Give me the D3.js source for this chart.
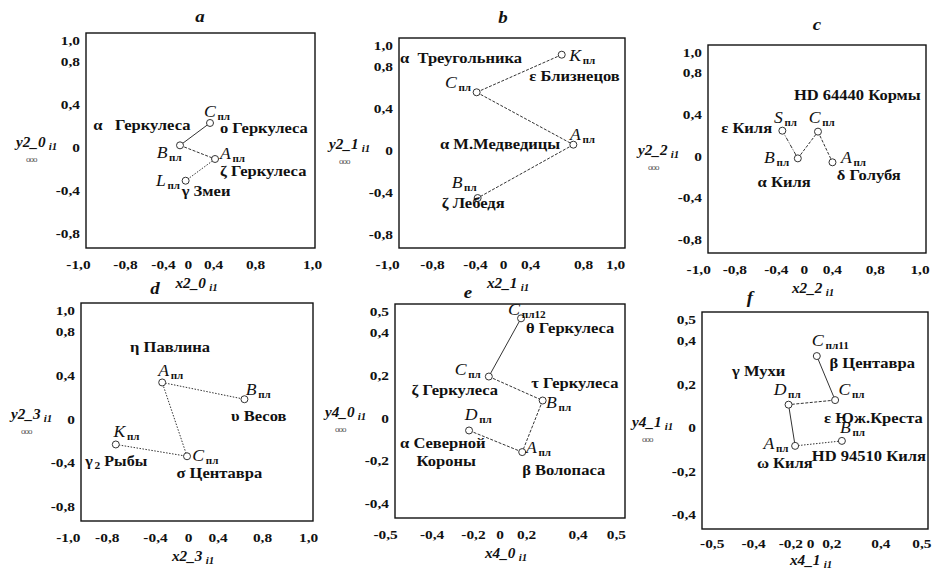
<!DOCTYPE html>
<html lang="ru">
<head>
<meta charset="utf-8">
<title>Панели a–f</title>
<script src="https://d3js.org/d3.v7.min.js"></script>
<style>
  body { margin: 0; background: #fff; }
  svg text { font-family: 'Liberation Serif', 'Times New Roman', serif; fill: #111; }
</style>
</head>
<body>
<script>
// tick values
const ticksWide = [-1, -0.8, -0.4, 0, 0.4, 0.8, 1]
const ticksNarrow = [-0.5, -0.4, -0.2, 0, 0.2, 0.4, 0.5]

const panelNames = ['a', 'b', 'c', 'd', 'e', 'f']
const xTitles = ['x2_0', 'x2_1', 'x2_2', 'x2_3', 'x4_0', 'x4_1']
const yTitles = ['y2_0', 'y2_1', 'y2_2', 'y2_3', 'y4_0', 'y4_1']

// "~" starts a subscript
// panel a (points in path order)
const aPoints = ['C', 'B', 'A', 'L']
const aX = [0.083, -0.179, 0.127, -0.130]
const aY = [0.163, -0.045, -0.172, -0.374]
const aLabels = ['α   Геркулеса', 'C~пл', 'ο Геркулеса', 'B~пл', 'A~пл', 'ζ Геркулеса', 'L~пл', 'γ Змеи']
const aLabelX = [-0.936, 0.031, 0.170, -0.383, 0.170, 0.170, -0.389, -0.164]
const aLabelY = [0.101, 0.215, 0.070, -0.163, -0.172, -0.327, -0.426, -0.519]

// panel b
const bPoints = ['K', 'C', 'A', 'B']
const bX = [0.440, -0.313, 0.543, -0.304]
const bY = [0.841, 0.483, -0.016, -0.524]
const bLabels = ['α  Треугольника', 'K~пл', 'ε Близнецов', 'C~пл', 'α М.Медведицы', 'A~пл', 'B~пл', 'ζ Лебедя']
const bLabelX = [-0.991, 0.507, 0.153, -0.593, -0.637, 0.513, -0.534, -0.622]
const bLabelY = [0.762, 0.778, 0.587, 0.524, -0.054, 0.032, -0.429, -0.619]

// panel c
const cPoints = ['S', 'B', 'C', 'A']
const cX = [-0.318, -0.176, 0.009, 0.142]
const cY = [0.176, -0.090, 0.167, -0.128]
const cLabels = ['HD 64440 Кормы', 'ε Киля', 'S~пл', 'C~пл', 'B~пл', 'A~пл', 'α Киля', 'δ Голубя']
const cLabelX = [-0.212, -0.879, -0.394, -0.076, -0.485, 0.221, -0.545, 0.182]
const cLabelY = [0.471, 0.157, 0.253, 0.253, -0.131, -0.131, -0.362, -0.298]

// panel d
const dPoints = ['K', 'C', 'A', 'B']
const dX = [-0.700, -0.086, -0.300, 0.409]
const dY = [-0.298, -0.406, 0.271, 0.117]
const dLabels = ['η Павлина', 'A~пл', 'B~пл', 'υ Весов', 'K~пл', 'C~пл', 'γ~2 Рыбы', 'σ Центавра']
const dLabelX = [-0.577, -0.334, 0.42, 0.294, -0.72, -0.04, -0.963, -0.177]
const dLabelY = [0.548, 0.332, 0.16, -0.083, -0.231, -0.45, -0.498, -0.606]

// panel e
const ePoints = ['C12', 'C', 'B', 'A', 'D']
const eX = [0.048, -0.092, 0.142, 0.053, -0.178]
const eY = [0.433, 0.161, 0.049, -0.192, -0.091]
const eLabels = ['C~пл12', 'θ Геркулеса', 'C~пл', 'τ Геркулеса', 'ζ Геркулеса', 'B~пл', 'D~пл', 'α Северной', 'Короны', 'A~пл', 'β Волопаса']
const eLabelX = [-0.009, 0.070, -0.240, 0.092, -0.428, 0.157, -0.197, -0.478, -0.406, 0.070, 0.053]
const eLabelY = [0.449, 0.363, 0.169, 0.107, 0.075, 0.013, -0.041, -0.173, -0.259, -0.197, -0.298]

// panel f
const fPoints = ['C11', 'C', 'D', 'A', 'B']
const fX = [0.008, 0.089, -0.117, -0.088, 0.119]
const fY = [0.297, 0.094, 0.073, -0.117, -0.094]
const fLabels = ['C~пл11', 'β Центавра', 'γ Мухи', 'D~пл', 'C~пл', 'ε Юж.Креста', 'B~пл', 'A~пл', 'HD 94510 Киля', 'ω Киля']
const fLabelX = [-0.014, 0.064, -0.367, -0.183, 0.104, 0.040, 0.111, -0.228, -0.014, -0.257]
const fLabelY = [0.344, 0.242, 0.206, 0.117, 0.118, -0.012, -0.058, -0.133, -0.188, -0.219]

const panels = [
  { ticks: ticksWide, x: aX, y: aY, labels: aLabels, lx: aLabelX, ly: aLabelY },
  { ticks: ticksWide, x: bX, y: bY, labels: bLabels, lx: bLabelX, ly: bLabelY },
  { ticks: ticksWide, x: cX, y: cY, labels: cLabels, lx: cLabelX, ly: cLabelY },
  { ticks: ticksWide, x: dX, y: dY, labels: dLabels, lx: dLabelX, ly: dLabelY },
  { ticks: ticksNarrow, x: eX, y: eY, labels: eLabels, lx: eLabelX, ly: eLabelY },
  { ticks: ticksNarrow, x: fX, y: fY, labels: fLabels, lx: fLabelX, ly: fLabelY }
]

// layout: frame boxes [left, top, right, bottom], title spots, x tick label spread
const frames = [
  [86, 33, 315, 248], [399, 38, 625, 248], [708, 45, 926, 253],
  [81, 303, 313, 521], [395, 304, 625, 518], [702, 312, 928, 529]
]
const titlePos = [[200, 22], [503, 23], [817, 30], [155, 294], [468, 298], [750, 303]]
const xTickFrac = [
  [-0.035, 0.170, 0.336, 0.445, 0.555, 0.738, 0.987],
  [-0.053, 0.146, 0.336, 0.460, 0.580, 0.814, 0.956],
  [-0.045, 0.121, 0.311, 0.439, 0.568, 0.765, 0.970],
  [-0.057, 0.111, 0.319, 0.461, 0.589, 0.780, 0.979],
  [-0.043, 0.159, 0.339, 0.455, 0.570, 0.794, 0.960],
  [0.043, 0.226, 0.391, 0.478, 0.572, 0.789, 0.971]
]
const segStyle = [
  ['solid', 'dash', 'dot'],
  ['dash', 'dash', 'dash'],
  ['dashdot', 'dash', 'dash'],
  ['dot', 'dot', 'dot'],
  ['solid', 'dash', 'dash', 'dash'],
  ['solid', 'dash', 'solid', 'dot']
]
const dashes = { solid: null, dash: '3,1.5', dot: '1.5,1.5', dashdot: '4,1.5,1,1.5' }
const STRETCH = 1.18

const fmt = d => d === 0 ? '0' : d.toFixed(1).replace('.', ',')

const svg = d3.select('body').append('svg')
  .attr('width', 940)
  .attr('height', 570)

function addRich(parent, str, x, y, o) {
  const t = parent.append('text')
    .attr('x', x).attr('y', y)
    .attr('font-size', o.size)
    .attr('font-weight', 'bold')
    .style('white-space', 'pre')
    .classed('stretch', true)
  if (o.italic) t.attr('font-style', 'italic')
  let lowered = false
  str.split(/(~\S+)/).filter(s => s.length).forEach(p => {
    if (p[0] === '~') {
      t.append('tspan')
        .attr('dx', o.gap)
        .attr('dy', o.sub)
        .attr('font-size', o.subSize)
        .text(p.slice(1))
      lowered = true
    } else {
      const ts = t.append('tspan').text(p)
      if (lowered) { ts.attr('dy', -o.sub); lowered = false }
      if (/^[A-Z]$/.test(p)) {
        ts.attr('font-style', 'italic').attr('font-weight', 'normal').attr('font-size', o.letter)
      }
    }
  })
  return t
}

const labelOpts = { size: 14, letter: 16, sub: 3, subSize: 10, gap: 1.5 }
const axisOpts = { size: 14, letter: 14, sub: 3, subSize: 10, gap: 3, italic: true }

panels.forEach((p, i) => {
  const [x0, y0, x1, y1] = frames[i]
  const w = x1 - x0
  const h = y1 - y0
  const lim = d3.extent(p.ticks)

  const xScale = d3.scaleLinear().domain(lim).range([0, w])
  const yScale = d3.scaleLinear().domain(lim).range([h, 0])
  // the printed x tick labels are not evenly spread
  const xLabelScale = d3.scaleLinear().domain(p.ticks).range(xTickFrac[i].map(f => f * w))

  const g = svg.append('g').attr('transform', `translate(${x0},${y0})`)

  g.append('g')
    .attr('transform', `translate(0,${h})`)
    .call(d3.axisBottom(xLabelScale).tickValues(p.ticks).tickSize(0).tickPadding(y1 > 525 ? 10 : 12).tickFormat(fmt))
    .call(a => a.select('.domain').remove())
    .attr('font-size', 13)
    .attr('font-weight', 'bold')
    .selectAll('text').classed('stretch', true)

  g.append('g')
    .call(d3.axisLeft(yScale).tickValues(p.ticks.slice(1)).tickSize(0).tickPadding(6).tickFormat(fmt))
    .call(a => a.select('.domain').remove())
    .attr('font-size', 13)
    .attr('font-weight', 'bold')
    .selectAll('text').attr('y', 7).classed('stretch', true)

  g.append('rect')
    .attr('width', w).attr('height', h)
    .attr('fill', 'none')
    .attr('stroke', '#111')
    .attr('stroke-width', 1.4)

  const line = d3.line().x(k => xScale(p.x[k])).y(k => yScale(p.y[k]))
  d3.range(p.x.length - 1).forEach(k => {
    g.append('path')
      .attr('d', line([k, k + 1]))
      .attr('fill', 'none')
      .attr('stroke', '#333')
      .attr('stroke-width', 1)
      .attr('stroke-dasharray', dashes[segStyle[i][k]])
  })

  g.selectAll('circle')
    .data(d3.range(p.x.length))
    .join('circle')
    .attr('cx', k => xScale(p.x[k]))
    .attr('cy', k => yScale(p.y[k]))
    .attr('r', 3.5)
    .attr('fill', '#fff')
    .attr('stroke', '#333')
    .attr('stroke-width', 1)

  p.labels.forEach((s, k) => addRich(g, s, xScale(p.lx[k]), yScale(p.ly[k]), labelOpts))

  // panel letter
  svg.append('text')
    .attr('x', titlePos[i][0]).attr('y', titlePos[i][1])
    .attr('text-anchor', 'middle')
    .attr('font-size', 16)
    .attr('font-style', 'italic')
    .attr('font-weight', 'bold')
    .classed('stretch', true)
    .text(panelNames[i])

  // axis titles
  const yt = y0 + 0.53 * h
  addRich(svg, yTitles[i] + '~i1', x0 - 70, yt, axisOpts)
  svg.append('text')
    .attr('x', x0 - 60).attr('y', yt + 15)
    .attr('font-size', 9)
    .attr('letter-spacing', -1)
    .style('fill', '#555')
    .text('ooo')
  addRich(svg, xTitles[i] + '~i1', x0 + w / 2 - 25, Math.min(y1 + 40, 565), axisOpts)
})

// the scanned type is wider than the font, stretch it a little
svg.selectAll('text.stretch').each(function () {
  const len = this.getComputedTextLength()
  if (len > 0) {
    d3.select(this)
      .attr('textLength', len * STRETCH)
      .attr('lengthAdjust', 'spacingAndGlyphs')
  }
})
</script>
</body>
</html>
